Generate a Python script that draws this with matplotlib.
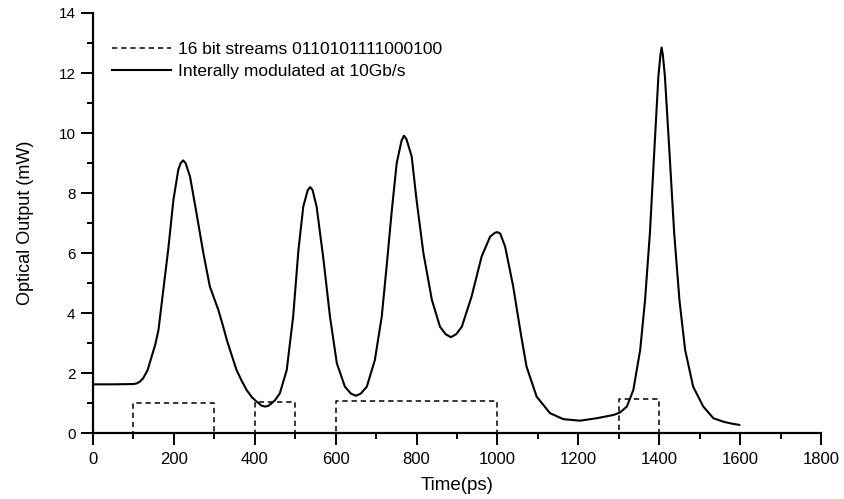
import matplotlib
matplotlib.use("Agg")
import matplotlib.pyplot as plt
from matplotlib.ticker import MultipleLocator

plt.rcParams['font.family'] = ['Liberation Sans', 'DejaVu Sans']

# optical output of the internally modulated laser
time_ps = [0, 50, 100, 108, 116, 124, 135, 145, 154, 162, 174, 186, 199, 211, 217, 223,
           229, 240, 256, 273, 289, 300, 310, 320, 331, 343, 355, 368, 380, 393, 405, 417, 425, 433, 440,
           450, 462, 479, 495, 508, 520, 531, 537, 543, 553, 570, 586, 603, 623,
           638, 650, 662, 677, 697, 714, 726, 739, 751, 763, 769, 775, 788,
           800, 817, 838, 858, 872, 885, 898, 912, 936, 961, 982, 994, 1000,
           1007, 1019, 1039, 1058, 1072, 1097, 1130, 1163, 1204, 1245, 1287,
           1303, 1320, 1336, 1353, 1365, 1377, 1388, 1398, 1403, 1406, 1409,
           1414, 1425, 1437, 1450, 1464, 1484, 1509, 1534, 1560, 1580, 1598]
power_mw = [1.63, 1.63, 1.64, 1.66, 1.72, 1.83, 2.1, 2.55, 2.95, 3.44, 4.78, 6.11, 7.78,
            8.78, 9.0, 9.09, 9.0, 8.55, 7.33, 6.0, 4.89, 4.48, 4.11, 3.65, 3.11, 2.6, 2.11, 1.74, 1.44,
            1.2, 1.05, 0.92, 0.89, 0.91, 0.98, 1.1, 1.33, 2.1, 3.89, 6.1, 7.55, 8.1, 8.2, 8.1,
            7.55, 5.78, 3.89, 2.33, 1.55, 1.32, 1.25, 1.32, 1.55, 2.44, 3.89,
            5.55, 7.44, 9.0, 9.75, 9.91, 9.8, 9.22, 7.78, 6.0, 4.44, 3.55, 3.3,
            3.2, 3.3, 3.55, 4.55, 5.89, 6.55, 6.68, 6.7, 6.65, 6.22, 4.89, 3.3,
            2.22, 1.22, 0.67, 0.47, 0.42, 0.5, 0.61, 0.69, 0.89, 1.44, 2.78,
            4.44, 6.67, 9.44, 11.9, 12.6, 12.85, 12.6, 11.9, 9.44, 6.67, 4.44,
            2.78, 1.55, 0.89, 0.5, 0.38, 0.32, 0.28]

# 16 bit stream 0110101111000100, one slot per 100 ps (drawn level per slot)
slot_start = [0, 100, 200, 300, 400, 500, 600, 700, 800, 900, 1000, 1100,
              1200, 1300, 1400, 1500, 1600]
slot_level = [0, 1.0, 1.0, 0, 1.03, 0, 1.08, 1.08, 1.08, 1.08, 0, 0, 0,
              1.13, 0, 0, 0]

fig = plt.figure(figsize=(8.45, 4.99), dpi=100)
ax = fig.add_axes([0.110, 0.1317, 0.8616, 0.8423])

ax.step(slot_start, slot_level, where='post', color='k', lw=1.1,
        ls=(0, (3.5, 2.5)), label='16 bit streams 0110101111000100', zorder=1)
ax.plot(time_ps, power_mw, color='k', lw=1.5,
        label='Interally modulated at 10Gb/s', zorder=3)

ax.set_xlim(0, 1800)
ax.set_ylim(0, 14)
ax.xaxis.set_major_locator(MultipleLocator(200))
ax.xaxis.set_minor_locator(MultipleLocator(100))
ax.yaxis.set_major_locator(MultipleLocator(2))
ax.yaxis.set_minor_locator(MultipleLocator(1))

for s in ['top', 'right']:
    ax.spines[s].set_visible(False)
for s in ['left', 'bottom']:
    ax.spines[s].set_linewidth(1.6)
    ax.spines[s].set_zorder(4)

ax.tick_params(which='major', direction='out', length=8.5, width=1.4, pad=4)
ax.tick_params(which='minor', direction='out', length=4.5, width=1.4)
ax.tick_params(axis='x', which='major', labelsize=12, pad=5)
ax.tick_params(axis='y', which='major', labelsize=11)

ax.set_xlabel('Time(ps)', fontsize=13.5, labelpad=7)
ax.set_ylabel('Optical Output (mW)', fontsize=13, labelpad=18)

ax.legend(loc='upper left', bbox_to_anchor=(0.0165, 0.947), frameon=False,
          fontsize=12.5, handlelength=3.4, handletextpad=0.4, labelspacing=0.4,
          borderaxespad=0.0)

fig.savefig('out.png', dpi=100)
